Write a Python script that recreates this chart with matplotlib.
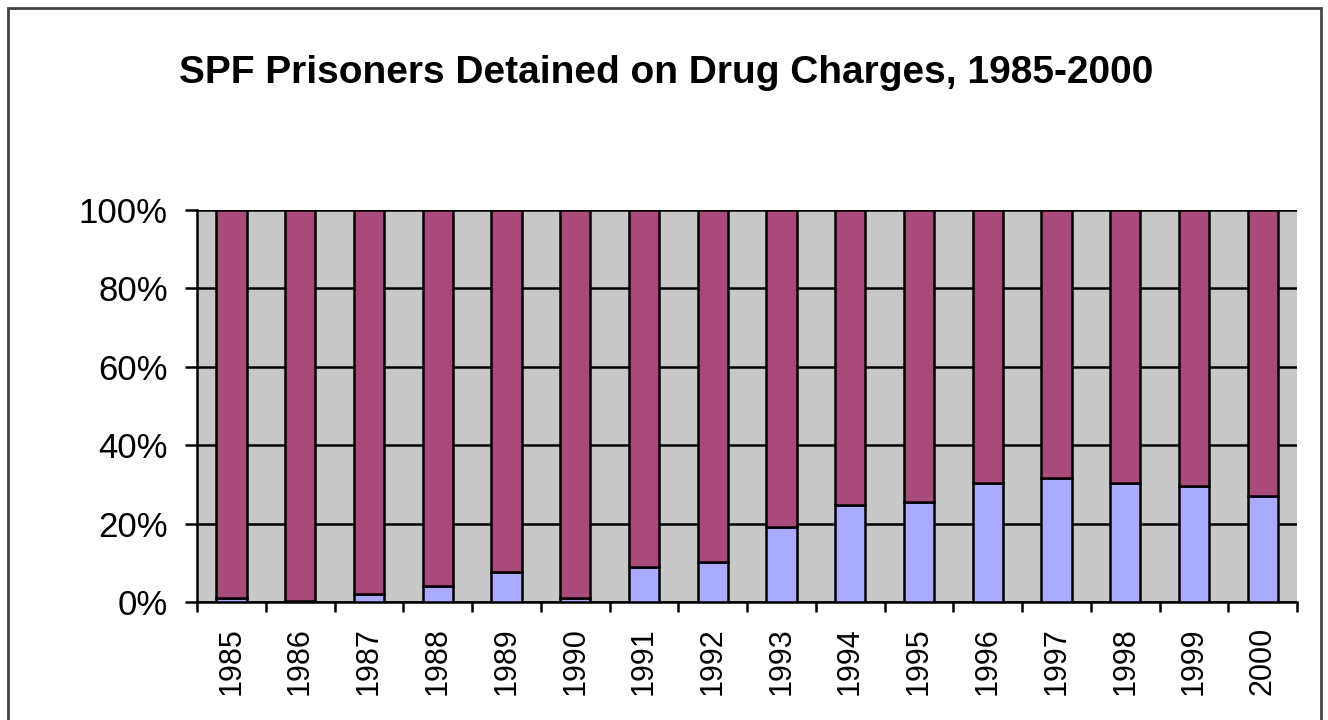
import matplotlib.pyplot as plt
from matplotlib.patches import Rectangle
from matplotlib.ticker import FixedLocator

plt.rcParams['font.family'] = ['Liberation Sans', 'DejaVu Sans']

years = ['1985', '1986', '1987', '1988', '1989', '1990', '1991', '1992',
         '1993', '1994', '1995', '1996', '1997', '1998', '1999', '2000']
# share of prisoners held on drug charges (%)
drug_pct = [0.9, 0.3, 2.0, 4.1, 7.6, 0.9, 9.0, 10.1,
            19.1, 24.8, 25.4, 30.3, 31.7, 30.3, 29.7, 27.1]
other_pct = [100 - v for v in drug_pct]
y_ticks = [0, 20, 40, 60, 80, 100]

fig = plt.figure(figsize=(13.28, 7.2), dpi=100)
# outer chart-area frame
fig.patches.append(Rectangle((8 / 1328, -0.1), 1313 / 1328, 1.1 - 8 / 720,
                             transform=fig.transFigure, fill=False,
                             edgecolor='#444444', linewidth=2))

ax = fig.add_axes([197 / 1328, 1 - 602 / 720, 1100 / 1328, 392 / 720])
ax.set_facecolor('#C8C8C8')

x = list(range(len(years)))
ax.bar(x, drug_pct, width=0.44, color='#AAAAFF', edgecolor='black', linewidth=1.8, zorder=3)
ax.bar(x, other_pct, width=0.44, bottom=drug_pct, color='#AA4A7A',
       edgecolor='black', linewidth=1.8, zorder=3)

ax.set_xlim(-0.5, len(years) - 0.5)
ax.set_ylim(0, 100)
ax.set_yticks(y_ticks)
ax.set_yticklabels([f'{t}%' for t in y_ticks], fontsize=25)
ax.yaxis.grid(True, color='black', linewidth=1.8, zorder=1)
ax.tick_params(axis='y', length=9, width=1.8, pad=12, direction='out')

ax.set_xticks(x)
ax.set_xticklabels(years, rotation=90, fontsize=22)
ax.tick_params(axis='x', which='major', length=0, pad=18)
ax.xaxis.set_minor_locator(FixedLocator([i - 0.5 for i in range(len(years) + 1)]))
ax.tick_params(axis='x', which='minor', length=7, width=1.8, direction='out')

for side in ['top', 'right']:
    ax.spines[side].set_visible(False)
for side in ['left', 'bottom']:
    ax.spines[side].set_linewidth(1.8)

fig.text(0.502, 0.899, 'SPF Prisoners Detained on Drug Charges, 1985-2000',
         ha='center', va='center', fontsize=28, fontweight='bold')

fig.savefig('out.png', dpi=100)
